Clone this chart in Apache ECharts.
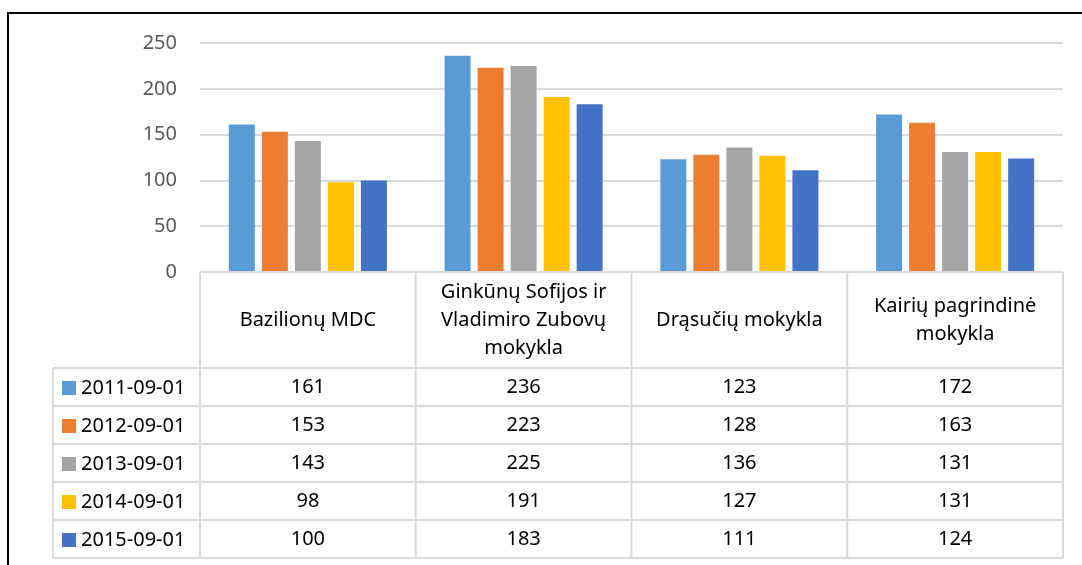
<!DOCTYPE html>
<html>
<head>
<meta charset="utf-8">
<script src="https://cdn.jsdelivr.net/npm/echarts@6/dist/echarts.min.js"></script>
<style>
  html, body { margin: 0; padding: 0; background: #fff; }
  #main { width: 1082px; height: 565px; }
</style>
</head>
<body>
<div id="main"></div>
<script>
// mokyklos (stulpelių grupės)
var categories = ['Bazilionų MDC', 'Ginkūnų Sofijos ir\nVladimiro Zubovų\nmokykla', 'Drąsučių mokykla', 'Kairių pagrindinė\nmokykla'];
// datos (serijos)
var seriesNames = ['2011-09-01', '2012-09-01', '2013-09-01', '2014-09-01', '2015-09-01'];
var v2011 = [161, 236, 123, 172];
var v2012 = [153, 223, 128, 163];
var v2013 = [143, 225, 136, 131];
var v2014 = [98, 191, 127, 131];
var v2015 = [100, 183, 111, 124];
var yTicks = [0, 50, 100, 150, 200, 250];

var allValues = [v2011, v2012, v2013, v2014, v2015];
var colors = ['#5B9BD5', '#ED7D31', '#A5A5A5', '#FFC000', '#4472C4'];

var FONT = 'Noto Sans';
var gridLeft = 200, gridRight = 1063, axisY = 272;
var headerH = 96, rowH = 38, legendLeft = 53;
var lineColor = '#d9d9d9';

// lentelės linijos
var graphics = [];
function hline(x1, x2, y) {
    graphics.push({ type: 'line', shape: { x1: x1, y1: y, x2: x2, y2: y }, style: { stroke: lineColor, lineWidth: 2 }, z: 5 });
}
function vline(x, y1, y2) {
    graphics.push({ type: 'line', shape: { x1: x, y1: y1, x2: x, y2: y2 }, style: { stroke: lineColor, lineWidth: 2 }, z: 5 });
}
var tableBottom = axisY + headerH + rowH * seriesNames.length;
hline(gridLeft, gridRight, axisY);
for (var r = 0; r <= seriesNames.length; r++) {
    hline(legendLeft, gridRight, axisY + headerH + r * rowH);
}
var colW = (gridRight - gridLeft) / categories.length;
for (var c = 0; c <= categories.length; c++) {
    vline(gridLeft + c * colW, axisY, tableBottom);
}
vline(legendLeft, axisY + headerH, tableBottom);
// rėmelis
graphics.push({ type: 'rect', shape: { x: 8, y: 13, width: 1100, height: 600 }, style: { fill: 'none', stroke: '#000', lineWidth: 2 }, z: 10 });

// papildomos ašys – reikšmių eilutės
var xAxes = [{
    type: 'category',
    data: categories,
    axisLine: { show: false },
    axisTick: { show: false },
    axisLabel: {
        fontFamily: FONT, fontSize: 20, color: '#000', lineHeight: 28,
        verticalAlign: 'middle', margin: headerH / 2, interval: 0
    }
}];
allValues.forEach(function (vals, i) {
    xAxes.push({
        type: 'category',
        data: categories,
        position: 'bottom',
        offset: headerH + rowH * i + rowH / 2,
        axisLine: { show: false },
        axisTick: { show: false },
        splitLine: { show: false },
        axisLabel: {
            fontFamily: FONT, fontSize: 20, color: '#000',
            verticalAlign: 'middle', margin: 0, interval: 0,
            formatter: function (v, idx) { return String(vals[idx]); }
        }
    });
});

var myChart = echarts.init(document.getElementById('main'));
var option = {
    animation: false,
    color: colors,
    grid: { left: gridLeft, right: 1082 - gridRight, top: 43, bottom: 565 - axisY, outerBoundsMode: 'none' },
    legend: {
        orient: 'vertical',
        left: 62,
        top: axisY + headerH + 8,
        itemWidth: 14,
        itemHeight: 14,
        itemGap: 14,
        icon: 'rect',
        padding: 0,
        textStyle: { fontFamily: FONT, fontSize: 20, color: '#000', lineHeight: 24 },
        data: seriesNames
    },
    xAxis: xAxes,
    yAxis: {
        type: 'value',
        min: yTicks[0],
        max: yTicks[yTicks.length - 1],
        interval: 50,
        axisLine: { show: false },
        axisTick: { show: false },
        axisLabel: { fontFamily: FONT, fontSize: 20, color: '#595959', margin: 23 },
        splitLine: { lineStyle: { color: lineColor, width: 2 } }
    },
    series: seriesNames.map(function (name, i) {
        return {
            name: name,
            type: 'bar',
            barWidth: 26,
            barGap: '27%',
            data: allValues[i]
        };
    }),
    graphic: graphics
};
myChart.setOption(option);
</script>
</body>
</html>
